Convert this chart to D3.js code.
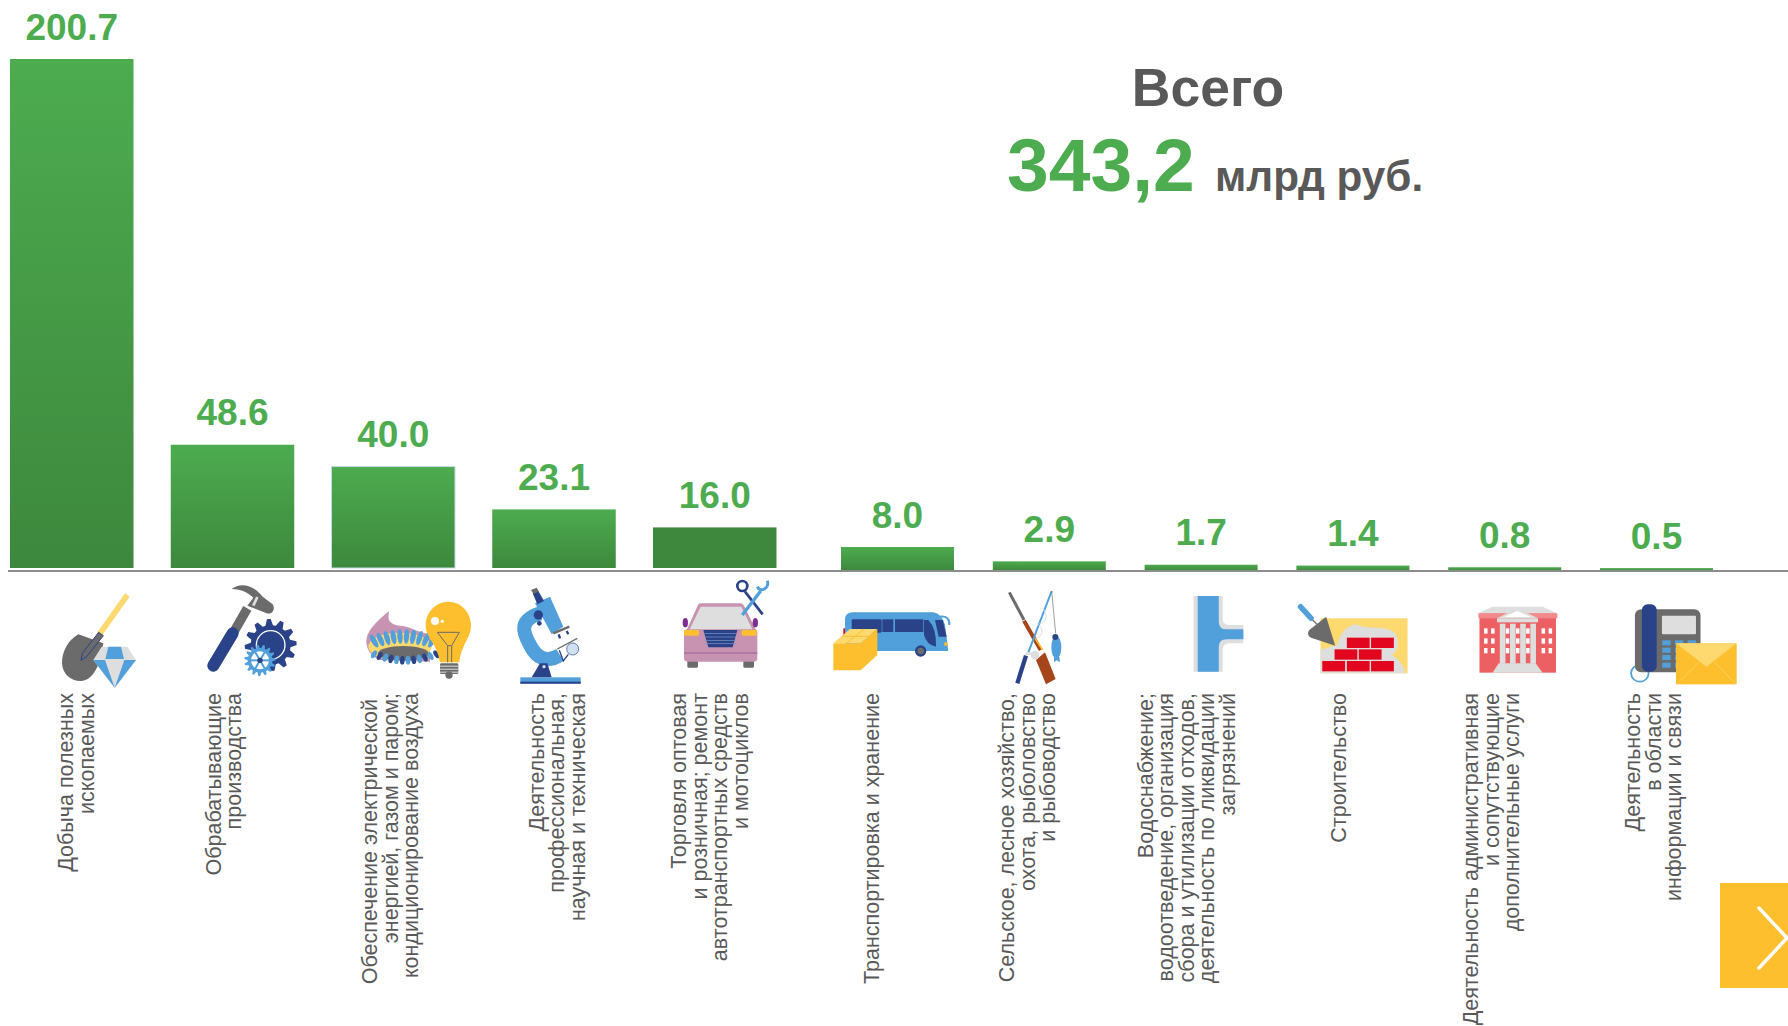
<!DOCTYPE html>
<html>
<head>
<meta charset="utf-8">
<script src="https://cdn.jsdelivr.net/npm/d3@7"></script>
<style>
  html, body { margin: 0; padding: 0; background: #fff; overflow: hidden; }
  text { font-family: "Liberation Sans", Arial, sans-serif; }
</style>
</head>
<body>
<script>
////////////////////////////////////////////////////////////////////////
// Data

const bigCategories = ["mining", "manufacturing", "energy", "science", "trade"];
const bigValues = [200.7, 48.6, 40.0, 23.1, 16.0];
const smallCategories = ["transport", "agriculture", "water", "building", "admin", "telecom"];
const smallValues = [8.0, 2.9, 1.7, 1.4, 0.8, 0.5];

// Trailing nbsp is there on purpose, the original lines keep a space at the wrap
const labelLines = {
  mining: ["Добыча полезных", "ископаемых"],
  manufacturing: ["Обрабатывающие", "производства"],
  energy: ["Обеспечение электрической\u00a0", "энергией, газом и паром;", "кондиционирование воздуха"],
  science: ["Деятельность", "профессиональная,", "научная и техническая"],
  trade: ["Торговля оптовая", "и розничная; ремонт", "автотранспортных средств", "и мотоциклов"],
  transport: ["Транспортировка и хранение"],
  agriculture: ["Сельское, лесное хозяйство,", "охота, рыболовство", "и рыбоводство"],
  water: ["Водоснабжение;", "водоотведение, организация", "сбора и утилизации отходов,", "деятельность по ликвидации", "загрязнений"],
  building: ["Строительство"],
  admin: ["Деятельность административная", "и сопутствующие", "дополнительные услуги"],
  telecom: ["Деятельность", "в области", "информации и связи"]
};

const totalTitle = "Всего";
const totalValue = "343,2";
const totalUnit = "млрд руб.";

////////////////////////////////////////////////////////////////////////
// Layout

const width = 1788, height = 1026;
const baseY = 571;
const labelGap = 19.5;
const labelTop = 693;
const lineStep = 20.6;
// baseline of the first text line of each category
const labelX = {
  mining: 73, manufacturing: 220.5, energy: 377, science: 543.5, trade: 686,
  transport: 879, agriculture: 1014, water: 1152.5, building: 1345.5, admin: 1478, telecom: 1640
};

const colors = {
  green: "#4dac4f", dark: "#3d883d", text: "#595959", axis: "#8c8c8c",
  blue: "#52a0db", navy: "#2a4288", gray: "#6b6b6b", light: "#dedede",
  yellow: "#fdbf2d", pale: "#fdd96f", pink: "#c893b0", red: "#e2061f", coral: "#ec5f62", rust: "#a6441a"
};

let svg = d3.select("body").append("svg")
  .attr("width", width).attr("height", height)
  .style("display", "block");

let grad = svg.append("defs").append("linearGradient")
  .attr("id", "barFill").attr("x1", 0).attr("y1", 0).attr("x2", 0).attr("y2", 1);
grad.append("stop").attr("offset", "0").attr("stop-color", colors.green);
grad.append("stop").attr("offset", "1").attr("stop-color", colors.dark);

////////////////////////////////////////////////////////////////////////
// Scales. The small bars sit on their own stretched scale, as in the original

let xBig = d3.scaleBand().domain(bigCategories).range([10, 776.5]).paddingInner(0.2317);
let yBig = d3.scaleLinear().domain([0, 200.7]).range([568, 59]);
let xSmall = d3.scaleBand().domain(smallCategories).range([841, 1713]).paddingInner(0.2556);
let ySmall = d3.scaleLinear().domain([0, 8]).range([569.5, 547]);

function drawBars(cats, vals, x, y, bottom) {
  let g = svg.append("g");
  g.selectAll("rect")
    .data(cats)
    .enter()
    .append("rect")
    .attr("x", (d) => x(d))
    .attr("width", x.bandwidth())
    .attr("y", (d, i) => y(vals[i]))
    .attr("height", (d, i) => bottom - y(vals[i]))
    .attr("fill", (d) => d === "trade" ? colors.dark : "url(#barFill)")
    .attr("stroke", (d) => d === "energy" ? "#c5d9ec" : "none")
    .attr("stroke-width", 1);

  g.selectAll("text")
    .data(cats)
    .enter()
    .append("text")
    .attr("x", (d) => x(d) + x.bandwidth() / 2)
    .attr("y", (d, i) => y(vals[i]) - labelGap)
    .attr("text-anchor", "middle")
    .attr("font-size", 37)
    .attr("font-weight", "bold")
    .attr("fill", colors.green)
    .text((d, i) => d3.format(".1f")(vals[i]));
}

drawBars(bigCategories, bigValues, xBig, yBig, 568);
drawBars(smallCategories, smallValues, xSmall, ySmall, 571);

svg.append("line")
  .attr("x1", 8).attr("x2", width)
  .attr("y1", baseY).attr("y2", baseY)
  .attr("stroke", colors.axis).attr("stroke-width", 2);

////////////////////////////////////////////////////////////////////////
// Rotated category labels

let labels = svg.append("g");
bigCategories.concat(smallCategories).forEach((cat) => {
  labelLines[cat].forEach((line, i) => {
    labels.append("text")
      .attr("transform", "translate(" + (labelX[cat] + i * lineStep) + "," + labelTop + ") rotate(-90)")
      .attr("text-anchor", "end")
      .attr("font-size", 21.5)
      .attr("fill", colors.text)
      .text(line);
  });
});

////////////////////////////////////////////////////////////////////////
// Total block

function bigText(x, y, size, fill, anchor, str) {
  svg.append("text")
    .attr("x", x).attr("y", y)
    .attr("font-size", size)
    .attr("font-weight", "bold")
    .attr("text-anchor", anchor)
    .attr("fill", fill)
    .text(str);
}
bigText(1208, 106, 53.5, colors.text, "middle", totalTitle);
bigText(1007, 191, 75, colors.green, "start", totalValue);
bigText(1215, 191, 42.3, colors.text, "start", totalUnit);

////////////////////////////////////////////////////////////////////////
// Next button

svg.append("rect").attr("x", 1720).attr("y", 883).attr("width", 68).attr("height", 105).attr("fill", colors.yellow);
svg.append("path")
  .attr("d", "M1759,908 L1787,938 L1759,968")
  .attr("fill", "none").attr("stroke", "#fff").attr("stroke-width", 3.5).attr("stroke-linecap", "round");

////////////////////////////////////////////////////////////////////////
// Icons, plain shapes traced in zoomed-crop coordinates

function iconLayer(ox, oy, sx, sy) {
  return svg.append("g").attr("transform", "translate(" + ox + "," + oy + ") scale(" + (1 / sx) + "," + (1 / sy) + ")");
}
function path(g, d, fill) {
  return g.append("path").attr("d", d).attr("fill", fill);
}
function stroke(g, d, color, w, cap) {
  return g.append("path").attr("d", d).attr("fill", "none").attr("stroke", color)
    .attr("stroke-width", w).attr("stroke-linecap", cap || "butt");
}
function circle(g, cx, cy, r, fill) {
  return g.append("circle").attr("cx", cx).attr("cy", cy).attr("r", r).attr("fill", fill);
}
function ellipse(g, cx, cy, rx, ry, fill, rot) {
  let e = g.append("ellipse").attr("cx", cx).attr("cy", cy).attr("rx", rx).attr("ry", ry).attr("fill", fill);
  if (rot) e.attr("transform", "rotate(" + rot + " " + cx + " " + cy + ")");
  return e;
}
function box(g, x, y, w, h, fill, r) {
  return g.append("rect").attr("x", x).attr("y", y).attr("width", w).attr("height", h).attr("fill", fill).attr("rx", r || 0);
}
function gear(g, cx, cy, outer, inner, teeth, fill) {
  let pts = [];
  for (let i = 0; i < teeth; i++) {
    let a = (i / teeth) * 2 * Math.PI, t = (2 * Math.PI) / teeth;
    [[inner, -0.5], [outer, -0.28], [outer, 0.0], [inner, 0.22]].forEach((p) => {
      let ang = a + p[1] * t;
      pts.push((cx + p[0] * Math.cos(ang)).toFixed(1) + "," + (cy + p[0] * Math.sin(ang)).toFixed(1));
    });
  }
  return path(g, "M" + pts.join(" L") + "Z", fill);
}

// shovel + diamond, hammer + gears
let a = iconLayer(40, 575, 3, 3);
stroke(a, "M262,60 L178,178", colors.pale, 17);
path(a, "M115,178 C85,195 65,230 66,265 C68,300 95,320 125,318 C150,316 172,290 184,240 L190,205 Z", colors.gray);
path(a, "M176,172 L190,182 L140,245 L123,256 L127,235 Z", colors.gray).attr("stroke", colors.navy).attr("stroke-width", 3);
path(a, "M185,215 L262,215 L288,255 L224,340 L160,255 Z", colors.light);
path(a, "M205,215 L243,215 L252,252 L196,252 Z", colors.blue);
path(a, "M160,255 L195,255 L224,338 Z", colors.blue);
path(a, "M253,255 L288,255 L224,338 Z", colors.blue);

path(a, "M575,42 C600,22 640,28 668,65 L698,88 C708,102 695,122 678,114 L622,92 L640,68 C620,50 600,42 575,42 Z", colors.gray);
stroke(a, "M652,66 L640,92", colors.light, 8);
stroke(a, "M622,100 L582,170", colors.gray, 28);
stroke(a, "M578,175 L520,272", colors.navy, 36, "round");
gear(a, 692, 210, 78, 60, 12, colors.navy);
a.append("circle").attr("cx", 692).attr("cy", 210).attr("r", 43).attr("fill", "none").attr("stroke", "#fff").attr("stroke-width", 4);
gear(a, 660, 256, 47, 37, 15, colors.blue);
a.append("circle").attr("cx", 660).attr("cy", 256).attr("r", 27).attr("fill", "#fff");
d3.range(6).forEach((i) => {
  let t = (i * Math.PI) / 3;
  stroke(a, "M660,256 L" + (660 + 30 * Math.cos(t)) + "," + (256 + 30 * Math.sin(t)), colors.blue, 6);
});
circle(a, 660, 256, 8, colors.navy);

// burner + bulb, microscope
let b = iconLayer(350, 575, 3, 3);
path(b, "M118,108 C110,135 120,150 150,152 C185,155 205,175 240,175 L240,260 L90,255 C60,245 45,215 50,190 C55,160 90,130 118,108 Z", colors.pink);
ellipse(b, 150, 215, 95, 42, colors.pale);
d3.range(10).forEach((i) => {
  let px = 72 + i * 19.5;
  let lift = 198 - 14 * Math.sin((i / 9) * Math.PI);
  ellipse(b, px, lift, 8, 22, colors.blue, (i - 4.5) * 7);
});
ellipse(b, 160, 235, 76, 22, colors.gray);
d3.range(12).forEach((i) => {
  let px = 72 + i * 17;
  let low = 238 + 18 * Math.sin((i / 11) * Math.PI);
  ellipse(b, px, low, 7, 13, i % 2 ? colors.navy : colors.blue, (5.5 - i) * 6);
});
path(b, "M295,80 C335,80 363,115 363,150 C363,190 335,205 328,262 L270,262 C262,205 227,190 227,150 C227,115 255,80 295,80 Z", colors.yellow);
circle(b, 255, 138, 12, "#fff");
circle(b, 277, 139, 5, "#fff");
stroke(b, "M262,172 L328,172 L305,212 L293,212 L262,172 M293,212 L293,262 M305,212 L305,262", colors.gray, 3);
box(b, 270, 265, 55, 32, colors.gray, 4);
[272, 281, 290].forEach((y) => box(b, 270, y, 55, 3, colors.light));
circle(b, 297, 300, 11, colors.gray);

box(b, 511, 307, 181, 19, colors.blue);
box(b, 511, 320, 181, 6, colors.navy);
stroke(b, "M570,115 C510,135 515,165 540,210 C560,250 590,265 630,240", colors.blue, 42);
path(b, "M555,85 L600,65 L640,155 L605,178 Z", colors.blue);
path(b, "M548,55 L565,48 L582,78 L562,88 Z", colors.navy);
path(b, "M543,45 L560,38 L567,50 L550,56 Z", colors.gray);
circle(b, 565, 120, 14, colors.navy);
circle(b, 568, 145, 7, colors.navy);
stroke(b, "M610,175 L658,155", colors.gray, 7);
stroke(b, "M626,178 L630,190 M650,168 L655,178", colors.navy, 7);
stroke(b, "M622,222 L682,190", colors.gray, 4);
stroke(b, "M628,226 L640,258 L655,238", colors.navy, 4);
circle(b, 668, 222, 18, "#cfe0f0").attr("stroke", colors.navy).attr("stroke-width", 2);
path(b, "M545,307 L570,265 L592,265 L605,307 Z", colors.navy);
circle(b, 582, 275, 5, "#cfe0f0");

// car, bus + box, rifle + rod
let c = iconLayer(670, 575, 3, 3);
path(c, "M50,165 L85,88 Q88,85 95,85 L212,85 Q218,85 222,92 L258,165 Z", colors.pink);
path(c, "M58,165 L92,95 L214,95 L248,165 Z", colors.light);
ellipse(c, 46, 143, 8, 14, "#7a2f91");
ellipse(c, 256, 143, 8, 14, "#7a2f91");
box(c, 52, 255, 32, 23, colors.gray, 4);
box(c, 220, 255, 32, 23, colors.gray, 4);
box(c, 42, 163, 220, 97, colors.pink, 10);
box(c, 42, 165, 45, 17, colors.yellow, 4);
box(c, 215, 165, 45, 17, colors.yellow, 4);
path(c, "M100,165 L202,165 L188,217 L115,217 Z", colors.navy);
[175, 185, 195, 205].forEach((y) => box(c, 104, y, 94, 2, "#7d97c9"));
box(c, 42, 232, 220, 4, "#a66aa0");
stroke(c, "M225,50 L278,118", colors.navy, 8);
c.append("circle").attr("cx", 217).attr("cy", 33).attr("r", 15).attr("fill", "none").attr("stroke", colors.navy).attr("stroke-width", 8);
stroke(c, "M217,120 L272,48", colors.blue, 10);
stroke(c, "M262,35 C270,55 300,40 292,17", colors.blue, 9);

path(c, "M525,135 Q525,112 548,112 L790,112 Q815,115 825,150 L835,228 L525,228 Z", colors.blue);
box(c, 545, 133, 90, 40, colors.navy, 4);
box(c, 637, 133, 33, 38, colors.navy);
box(c, 675, 133, 85, 38, colors.navy);
path(c, "M762,135 L775,135 Q800,160 798,215 Q770,210 762,180 Z", colors.navy);
path(c, "M795,135 L818,135 L830,185 L806,185 Z", colors.navy);
stroke(c, "M810,125 Q840,122 838,150", colors.blue, 6);
box(c, 823, 202, 10, 10, colors.yellow);
box(c, 520, 160, 5, 20, colors.red);
circle(c, 752, 228, 17, colors.navy);
circle(c, 752, 228, 10, colors.gray);
path(c, "M490,205 L572,205 L622,162 L622,240 L572,286 L490,286 Z", colors.yellow);
path(c, "M490,205 L540,162 L622,162 L572,205 Z", colors.pale);
stroke(c, "M530,205 L582,162 M515,184 L598,184", colors.yellow, 3);

stroke(c, "M1018,52 L1062,135", colors.gray, 9);
stroke(c, "M1062,137 L1112,225", colors.rust, 12);
stroke(c, "M1095,190 L1118,225", colors.yellow, 5);
path(c, "M1098,255 L1125,232 L1157,312 L1128,328 Z", colors.rust);
stroke(c, "M1145,48 L1075,232", colors.blue, 6);
stroke(c, "M1068,242 L1042,325", colors.navy, 13);
stroke(c, "M1118,100 C1140,125 1120,150 1108,145 M1100,145 C1130,165 1110,190 1098,190", colors.light, 3);
circle(c, 1095, 240, 13, colors.light);
box(c, 1066, 232, 20, 8, colors.light);
stroke(c, "M1145,48 L1157,175", colors.gray, 2);
ellipse(c, 1159, 217, 15, 34, colors.blue);
path(c, "M1152,245 L1168,245 L1170,262 L1160,256 L1152,262 Z", colors.blue);
circle(c, 1156, 186, 9, colors.navy);

// pipe, bricks, building, phone
let e = iconLayer(1190, 575, 2.85, 3);
path(e, "M10,63 L93,63 L93,130 Q93,150 112,150 L152,150 L152,205 L112,205 Q93,205 93,225 L93,290 L10,290 Z", colors.light);
path(e, "M22,63 L82,63 L82,140 Q82,163 105,163 L152,163 L152,193 L105,193 Q82,193 82,215 L82,290 L22,290 Z", colors.blue);

box(e, 372, 130, 248, 165, colors.pale);
path(e, "M372,295 L372,225 Q400,215 420,210 C430,170 450,145 480,150 C510,165 550,150 580,170 C600,190 595,230 575,240 C590,250 612,270 612,295 Z", colors.light);
[[447, 188], [516, 188], [412, 223], [481, 223], [377, 258], [447, 258], [516, 258]].forEach((p) => box(e, p[0], p[1], 65, 31, colors.red));
stroke(e, "M345,130 L362,148", colors.gray, 4);
stroke(e, "M315,95 L345,130", colors.blue, 16, "round");
path(e, "M388,125 L414,212 L345,188 Q330,180 340,165 Z", colors.gray);

box(e, 825, 115, 218, 178, colors.coral);
path(e, "M822,115 L862,95 L1005,95 L1047,115 Z", colors.light);
box(e, 822, 115, 225, 15, "#f08a8c");
path(e, "M875,130 L933,100 L992,130 Z", colors.light);
path(e, "M895,126 L933,108 L972,126 Z", "#fff");
box(e, 875, 130, 117, 12, colors.light);
[883, 912, 941, 970].forEach((x) => box(e, x, 146, 16, 120, colors.light));
[838, 858, 1002, 1022, 900, 929, 958].forEach((x) => {
  [160, 190, 219].forEach((y) => box(e, x, y, 10, 16, "#fff"));
});
path(e, "M880,265 L985,265 L1005,293 L862,293 Z", colors.light);

e.append("circle").attr("cx", 1282).attr("cy", 295).attr("r", 25).attr("fill", "none").attr("stroke", colors.blue).attr("stroke-width", 5);
box(e, 1268, 103, 187, 189, colors.gray, 18);
box(e, 1345, 122, 97, 56, colors.light, 3);
[1346, 1382, 1418].forEach((x) => {
  [196, 218, 240, 263].forEach((y) => box(e, x, y, 24, 15, colors.blue));
});
box(e, 1288, 88, 42, 202, colors.navy, 16);
box(e, 1385, 205, 173, 123, colors.yellow);
path(e, "M1385,205 L1558,205 L1472,275 Z", colors.pale);
stroke(e, "M1388,326 L1450,262 M1555,326 L1495,262", colors.pale, 2);
</script>
</body>
</html>
